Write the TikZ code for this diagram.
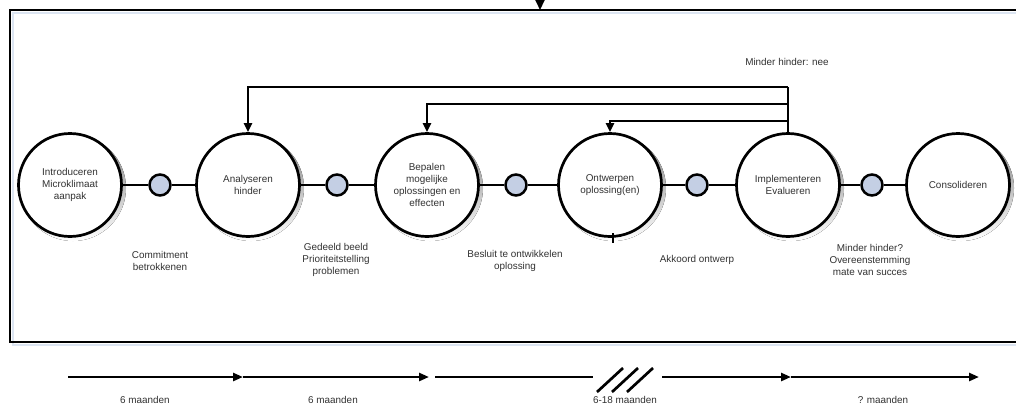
\documentclass[tikz,border=0pt]{standalone}
\usepackage{fontspec}
\setmainfont{Liberation Sans}
\usetikzlibrary{arrows.meta,calc}
\definecolor{nodefill}{RGB}{196,207,228}
\definecolor{shade}{RGB}{220,229,242}
\definecolor{txt}{RGB}{50,50,50}
\tikzset{
  big/.style={circle,draw=black,line width=2.7pt,fill=white,minimum size=103pt,inner sep=0pt,align=center,text=txt,font=\fontsize{9.9}{12}\selectfont},
  small/.style={circle,draw=black,line width=2.5pt,fill=nodefill,minimum size=21pt,inner sep=0pt},
  link/.style={line width=2.7pt},
  fb/.style={line width=2.5pt,-{Triangle[width=8pt,length=9pt]}},
  lbl/.style={align=center,text=txt,font=\fontsize{9.9}{12}\selectfont},
  tl/.style={line width=2.7pt,-{Triangle[width=8pt,length=10pt]}},
  frame/.style={line width=2.8pt},
  shadowline/.style={line width=2.6pt,draw=shade}
}
\begin{document}
\begin{tikzpicture}[x=1pt,y=-1pt]
\useasboundingbox (0,0) rectangle (1016,408);
\clip (0,0) rectangle (1016,408);
\fill[white] (0,0) rectangle (1016,408);
% frame
\coordinate (fTR) at (1030,10);
\coordinate (fTL) at (10,10);
\coordinate (fBL) at (10,342);
\coordinate (fBR) at (1030,342);
\draw[shadowline] ($(fTR)+(0,3)$) -- ($(fTL)+(3,3)$) -- ($(fBL)+(3,3)$) -- ($(fBR)+(0,3)$);
\draw[frame] (fTR) -- (fTL) -- (fBL) -- (fBR);
% incoming arrow on top
\coordinate (inA) at (540,-6);
\coordinate (inB) at (540,10);
\draw[line width=2pt,-{Triangle[width=9pt,length=10pt]}] (inA) -- (inB);
% big circles with shadows
\foreach \x in {70,248,427,610,788,958}{
  \fill[shade] (\x+3,188) circle (53);
}
\node[big] (c1) at (70,185) {Introduceren\\Microklimaat\\aanpak};
\node[big] (c2) at (248,185) {Analyseren\\hinder};
\node[big] (c3) at (427,185) {Bepalen\\mogelijke\\oplossingen en\\effecten};
\node[big] (c4) at (610,185) {Ontwerpen\\oplossing(en)};
\node[big] (c5) at (788,185) {Implementeren\\Evalueren};
\node[big] (c6) at (958,185) {Consolideren};
% small circles
\node[small] (s1) at (160,185) {};
\node[small] (s2) at (337,185) {};
\node[small] (s3) at (516,185) {};
\node[small] (s4) at (697,185) {};
\node[small] (s5) at (872,185) {};
\foreach \a/\b in {c1/s1,s1/c2,c2/s2,s2/c3,c3/s3,s3/c4,c4/s4,s4/c5,c5/s5,s5/c6}{
  \draw[link] (\a) -- (\b);
}
% tick on c4
\coordinate (tk1) at (613,233);
\coordinate (tk2) at (613,243);
\draw[line width=1.8pt] (tk1) -- (tk2);
% feedback loops
\coordinate (h1) at (0,87);
\coordinate (h2) at (0,104);
\coordinate (h3) at (0,121);
\draw[line width=2.5pt] (c5.north) -- (c5.north |- h1);
\draw[fb] (c5.north |- h1) -- (c2.north |- h1) -- (c2.north);
\draw[fb] (c5.north |- h2) -- (c3.north |- h2) -- (c3.north);
\draw[fb] (c5.north |- h3) -- (c4.north |- h3) -- (c4.north);
\node[lbl] (mh) at (787,62) {Minder hinder: nee};
% labels under
\node[lbl] (l1) at (160,261) {Commitment\\betrokkenen};
\node[lbl] (l2) at (336,260) {Gedeeld beeld\\Prioriteitstelling\\problemen};
\node[lbl] (l3) at (515,261) {Besluit te ontwikkelen\\oplossing};
\node[lbl] (l4) at (697,260) {Akkoord ontwerp};
\node[lbl] (l5) at (870,260) {Minder hinder?\\Overeenstemming\\mate van succes};
% timeline
\coordinate (t0) at (68,377);
\coordinate (t1) at (243,377);
\coordinate (t2) at (429,377);
\coordinate (t3) at (435,377);
\coordinate (t4) at (593,377);
\coordinate (t5) at (662,377);
\coordinate (t6) at (791,377);
\coordinate (t7) at (979,377);
\draw[tl] (t0) -- (t1);
\draw[tl] (t1) -- (t2);
\draw[line width=2.7pt] (t3) -- (t4);
\draw[tl] (t5) -- (t6);
\draw[tl] (t6) -- (t7);
\foreach \dx in {0,15,30}{
  \draw[line width=2.7pt] (597+\dx,392) -- (623+\dx,368);
}
\node[lbl] (m1) at (145,400) {6 maanden};
\node[lbl] (m2) at (333,400) {6 maanden};
\node[lbl] (m3) at (625,400) {6-18 maanden};
\node[lbl] (m4) at (883,400) {? maanden};
\end{tikzpicture}
\end{document}
